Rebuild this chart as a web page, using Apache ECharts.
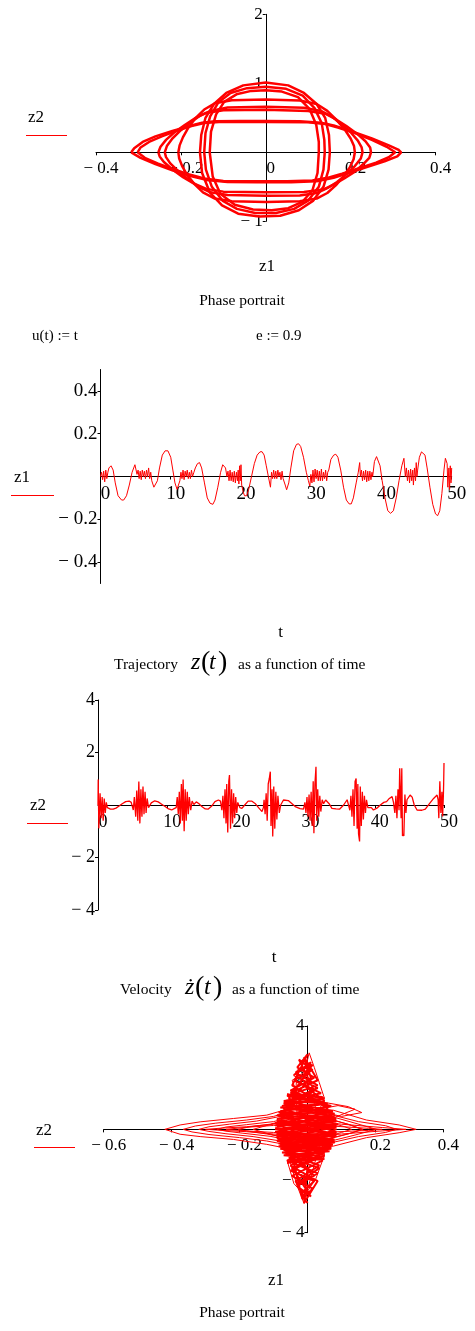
<!DOCTYPE html>
<html>
<head>
<meta charset="utf-8">
<script src="https://cdn.jsdelivr.net/npm/echarts@6/dist/echarts.min.js"></script>
<style>
    html, body { margin: 0; padding: 0; background: #fff; }
    #chart { width: 475px; height: 1331px; }
</style>
</head>
<body>
<div id="chart"></div>
<script>
// ---- top phase portrait: [z1, z2] loops ----
var ringOuter = [[-0.155,0],[-0.152,0.25],[-0.142,0.5],[-0.122,0.7],[-0.093,0.86],[-0.053,0.97],[0,1.01],[0.053,0.97],[0.09,0.86],[0.12,0.7],[0.14,0.5],[0.149,0.25],[0.151,0],[0.148,-0.25],[0.136,-0.5],[0.112,-0.7],[0.078,-0.84],[0.034,-0.92],[-0.015,-0.93],[-0.065,-0.89],[-0.103,-0.77],[-0.132,-0.58],[-0.15,-0.3],[-0.155,0]];
var ringMid = [[-0.145,0],[-0.142,0.28],[-0.131,0.52],[-0.112,0.72],[-0.083,0.86],[-0.044,0.93],[0,0.95],[0.048,0.92],[0.087,0.82],[0.115,0.64],[0.132,0.42],[0.138,0.18],[0.139,0],[0.136,-0.25],[0.125,-0.5],[0.1,-0.7],[0.067,-0.82],[0.024,-0.88],[-0.025,-0.88],[-0.068,-0.82],[-0.102,-0.7],[-0.127,-0.5],[-0.141,-0.25],[-0.145,0]];
var ringInner = [[-0.132,0],[-0.129,0.3],[-0.117,0.55],[-0.098,0.73],[-0.069,0.84],[-0.034,0.89],[0,0.9],[0.038,0.88],[0.076,0.8],[0.103,0.63],[0.119,0.4],[0.125,0.15],[0.125,0],[0.122,-0.3],[0.11,-0.55],[0.086,-0.72],[0.053,-0.81],[0.014,-0.84],[-0.03,-0.83],[-0.073,-0.76],[-0.107,-0.6],[-0.125,-0.35],[-0.132,0]];
var lensWide = [[-0.317,0],[-0.31,0.06],[-0.29,0.15],[-0.26,0.23],[-0.22,0.31],[-0.18,0.38],[-0.15,0.43],[-0.12,0.45],[-0.06,0.455],[0,0.455],[0.08,0.45],[0.13,0.43],[0.16,0.39],[0.2,0.31],[0.25,0.2],[0.29,0.1],[0.312,0.04],[0.319,0],[0.31,-0.06],[0.28,-0.13],[0.24,-0.21],[0.2,-0.29],[0.16,-0.37],[0.12,-0.42],[0.06,-0.435],[-0.02,-0.435],[-0.09,-0.43],[-0.14,-0.4],[-0.18,-0.34],[-0.22,-0.26],[-0.26,-0.17],[-0.295,-0.08],[-0.317,0]];
var lensWide2 = [[-0.302,0],[-0.295,0.07],[-0.275,0.15],[-0.245,0.23],[-0.21,0.31],[-0.175,0.38],[-0.145,0.425],[-0.11,0.44],[0,0.44],[0.1,0.435],[0.14,0.41],[0.17,0.36],[0.21,0.28],[0.25,0.18],[0.285,0.08],[0.305,0],[0.29,-0.07],[0.26,-0.15],[0.22,-0.23],[0.18,-0.31],[0.145,-0.37],[0.11,-0.41],[0.05,-0.42],[-0.04,-0.42],[-0.1,-0.415],[-0.145,-0.38],[-0.18,-0.32],[-0.22,-0.24],[-0.255,-0.16],[-0.285,-0.08],[-0.302,0]];
var lensMid = [[-0.253,0],[-0.248,0.08],[-0.235,0.18],[-0.215,0.29],[-0.19,0.4],[-0.165,0.5],[-0.14,0.57],[-0.1,0.61],[0,0.615],[0.1,0.6],[0.14,0.56],[0.165,0.48],[0.19,0.38],[0.215,0.27],[0.235,0.16],[0.246,0.07],[0.248,0],[0.244,-0.08],[0.23,-0.17],[0.21,-0.28],[0.185,-0.38],[0.16,-0.47],[0.135,-0.54],[0.09,-0.575],[0,-0.58],[-0.1,-0.57],[-0.14,-0.53],[-0.17,-0.45],[-0.195,-0.36],[-0.22,-0.25],[-0.24,-0.14],[-0.25,-0.06],[-0.253,0]];
var lensMid2 = [[-0.238,0],[-0.233,0.09],[-0.22,0.2],[-0.2,0.32],[-0.178,0.43],[-0.155,0.53],[-0.13,0.6],[-0.09,0.65],[0,0.66],[0.09,0.645],[0.13,0.6],[0.155,0.52],[0.178,0.41],[0.2,0.29],[0.217,0.17],[0.226,0.07],[0.228,0],[0.224,-0.09],[0.21,-0.2],[0.19,-0.32],[0.168,-0.43],[0.145,-0.52],[0.12,-0.59],[0.08,-0.625],[0,-0.63],[-0.09,-0.62],[-0.13,-0.58],[-0.158,-0.5],[-0.18,-0.4],[-0.205,-0.28],[-0.225,-0.16],[-0.235,-0.07],[-0.238,0]];
var lensNarrow = [[-0.206,0],[-0.203,0.1],[-0.195,0.22],[-0.182,0.36],[-0.165,0.5],[-0.145,0.62],[-0.12,0.71],[-0.08,0.755],[0,0.765],[0.08,0.75],[0.12,0.7],[0.145,0.6],[0.165,0.48],[0.185,0.34],[0.2,0.2],[0.208,0.09],[0.21,0],[0.207,-0.1],[0.198,-0.22],[0.183,-0.35],[0.165,-0.48],[0.145,-0.59],[0.12,-0.67],[0.08,-0.71],[0,-0.72],[-0.08,-0.71],[-0.12,-0.67],[-0.148,-0.58],[-0.168,-0.46],[-0.185,-0.33],[-0.197,-0.2],[-0.204,-0.09],[-0.206,0]];

// ---- trajectory z1(t): [t, z1] ----
var z1Trace = [
[0,0],[0.15,0.02],[0.3,-0.015],[0.45,0.025],[0.6,-0.025],[0.75,0.03],[0.9,-0.01],[1.05,0.02],
[1.2,0.04],[1.5,0.05],[1.8,0.03],[2.1,-0.03],[2.5,-0.09],[3.0,-0.11],[3.3,-0.11],[3.7,-0.09],[4.1,-0.04],[4.5,0.02],[4.9,0.055],[5.1,0.05],
[5.2,0.01],[5.35,0.03],[5.5,-0.01],[5.65,0.025],[5.8,-0.015],[5.95,0.03],[6.1,0],[6.25,0.025],[6.4,-0.01],[6.55,0.03],[6.7,0],[6.85,0.04],[7.0,-0.01],[7.15,0.02],[7.3,-0.02],
[7.6,-0.05],[7.8,-0.055],[8.1,-0.02],[8.4,0.04],[8.8,0.1],[9.2,0.12],[9.6,0.12],[10.0,0.09],[10.3,0.03],[10.6,-0.03],[10.9,-0.06],[11.1,-0.065],
[11.3,-0.02],[11.45,0.02],[11.6,-0.01],[11.75,0.03],[11.9,-0.015],[12.05,0.025],[12.2,0],[12.35,0.03],[12.5,-0.01],[12.65,0.02],[12.8,-0.01],[12.95,0.03],[13.1,0],[13.3,0.02],[13.5,0.04],
[13.8,0.06],[14.1,0.065],[14.4,0.04],[14.8,-0.03],[15.2,-0.1],[15.6,-0.125],[16.0,-0.13],[16.3,-0.11],[16.7,-0.05],[17.1,0.02],[17.4,0.055],[17.6,0.06],[17.8,0.04],
[18.0,0],[18.15,0.025],[18.3,-0.02],[18.45,0.03],[18.6,-0.02],[18.75,0.02],[18.9,-0.025],[19.05,0.025],[19.2,-0.03],[19.35,0.02],[19.5,-0.02],[19.6,0.03],[19.7,-0.035],[19.8,0.05],[19.9,-0.02],[20.0,0.055],[20.1,-0.04],
[20.3,-0.07],[20.5,-0.09],[20.8,-0.09],[21.1,-0.06],[21.5,0],[21.9,0.06],[22.3,0.1],[22.7,0.115],[23.0,0.116],[23.3,0.1],[23.6,0.05],[23.9,0],[24.2,-0.05],
[24.35,0.02],[24.5,-0.01],[24.65,0.03],[24.8,-0.01],[24.95,0.025],[25.1,-0.01],[25.25,0.03],[25.4,0],[25.55,0.02],[25.7,-0.015],[25.85,0.025],[26.0,-0.01],
[26.3,-0.04],[26.5,-0.062],[26.8,-0.03],[27.1,0.04],[27.5,0.12],[27.9,0.15],[28.2,0.153],[28.5,0.14],[28.9,0.09],[29.3,0.02],[29.6,-0.02],
[29.8,-0.045],[29.95,0.01],[30.1,-0.03],[30.25,0.03],[30.4,-0.025],[30.55,0.035],[30.7,-0.01],[30.85,0.03],[31.0,-0.02],[31.15,0.025],[31.3,-0.02],[31.45,0.035],[31.6,-0.02],[31.75,0.02],[31.9,-0.01],[32.05,0.03],[32.2,-0.02],[32.35,0.02],[32.5,0.03],
[32.8,0.08],[33.2,0.1],[33.5,0.104],[33.8,0.09],[34.2,0.03],[34.6,-0.05],[35.0,-0.11],[35.4,-0.128],[35.7,-0.128],[36.0,-0.1],[36.4,-0.03],[36.7,0.02],
[36.9,0.065],[37.0,0],[37.15,0.03],[37.3,-0.02],[37.45,0.025],[37.6,-0.015],[37.75,0.03],[37.9,-0.025],[38.05,0.025],[38.2,-0.02],[38.35,0.025],[38.5,-0.015],[38.65,0.02],[38.75,0],
[39.0,0.07],[39.3,0.093],[39.5,0.09],[39.8,0.05],[40.1,-0.02],[40.5,-0.1],[40.9,-0.16],[41.3,-0.172],[41.7,-0.16],[42.1,-0.1],[42.5,-0.02],[42.9,0.05],[43.2,0.085],[43.3,0.08],
[43.4,0],[43.55,0.04],[43.7,-0.02],[43.85,0.03],[44.0,-0.03],[44.15,0.035],[44.3,-0.02],[44.45,0.03],[44.55,-0.04],[44.7,0.04],[44.85,-0.02],[44.95,0.065],[45.05,0],[45.15,0.03],
[45.4,0.09],[45.7,0.115],[45.9,0.119],[46.2,0.1],[46.5,0.04],[46.9,-0.05],[47.3,-0.13],[47.7,-0.175],[48.0,-0.183],[48.3,-0.16],[48.6,-0.08],[48.9,0.03],[49.1,0.085],[49.2,0.09],[49.35,0.06],
[49.45,-0.05],[49.6,0.04],[49.7,-0.06],[49.8,0.05],[49.9,-0.03],[50,0.04]
];

// ---- velocity z2(t): [t, z2] ----
var z2Trace = [
[0,0],[0.03,0.97],[0.12,-0.89],[0.3,0.45],[0.45,-0.5],[0.6,0.3],[0.75,-0.6],[0.9,0.25],[1.05,-0.3],[1.2,0.1],[1.35,-0.1],
[1.5,-0.12],[1.8,-0.16],[2.2,-0.16],[2.6,-0.12],[3.0,-0.05],[3.5,0.05],[4.0,0.13],[4.5,0.15],[4.8,0.1],[5.1,-0.19],
[5.25,0.3],[5.45,-0.45],[5.6,0.55],[5.75,-0.6],[5.9,0.89],[6.05,-0.7],[6.2,0.6],[6.35,-0.45],[6.5,0.7],[6.65,-0.35],[6.8,0.5],[6.95,-0.3],[7.1,0.25],[7.3,-0.1],
[7.7,0.08],[8.2,0.16],[8.7,0.12],[9.2,0.03],[9.7,-0.06],[10.2,-0.15],[10.65,-0.19],[11.0,-0.14],[11.3,-0.1],
[11.45,0.3],[11.6,-0.35],[11.75,0.5],[11.9,-0.7],[12.05,0.8],[12.2,-0.6],[12.3,0.97],[12.45,-1.0],[12.6,0.6],[12.75,-0.6],[12.9,0.5],[13.05,-0.35],[13.2,0.3],[13.4,-0.2],[13.6,0.15],[13.85,0.02],
[14.2,0.12],[14.6,0.05],[15.0,-0.06],[15.5,-0.15],[15.9,-0.16],[16.4,-0.05],[16.9,0.13],[17.4,0.19],[17.7,0.15],
[17.9,-0.2],[18.05,0.35],[18.2,-0.5],[18.35,0.6],[18.5,-0.7],[18.6,0.8],[18.75,-1.05],[18.9,0.9],[19.0,1.14],[19.15,-0.9],[19.3,0.6],[19.45,-0.7],[19.6,0.45],[19.75,-0.5],[19.9,0.3],[20.05,-0.3],[20.2,0.1],
[20.5,-0.1],[20.8,-0.13],[21.2,0],[21.7,0.15],[22.2,0.15],[22.7,0.06],[23.2,-0.1],[23.7,-0.25],[23.9,-0.1],
[24.0,0.2],[24.15,-0.35],[24.3,0.45],[24.45,-0.6],[24.6,0.8],[24.75,1.0],[24.9,1.27],[25.0,-0.8],[25.15,0.6],[25.25,-1.2],[25.4,0.7],[25.55,-0.9],[25.7,0.5],[25.85,-0.55],[26.0,0.35],[26.2,-0.3],[26.4,0],
[26.8,0.19],[27.5,0.17],[28.5,-0.06],[29.2,-0.14],[29.7,-0.16],
[29.9,0.1],[30.05,-0.3],[30.2,0.3],[30.35,-0.45],[30.5,0.4],[30.65,-0.6],[30.8,0.5],[30.95,-0.8],[31.1,0.9],[31.2,-1.08],[31.35,0.8],[31.5,1.46],[31.6,-0.6],[31.75,0.6],[31.9,-0.45],[32.05,0.35],[32.2,-0.25],[32.4,0.2],[32.6,0.05],
[32.9,0.19],[33.4,0.05],[33.8,-0.13],[34.4,-0.15],[34.9,-0.16],[35.5,0],[36.0,0.2],[36.2,0.25],
[36.4,-0.2],[36.55,0.35],[36.7,-0.45],[36.85,0.6],[37.0,-0.8],[37.15,0.9],[37.3,1.01],[37.45,-0.9],[37.55,0.8],[37.65,-1.1],[37.8,-1.39],[37.9,0.7],[38.05,-0.8],[38.2,0.5],[38.35,-0.55],[38.5,0.35],[38.65,-0.3],[38.8,0.2],[39.0,-0.1],
[39.5,-0.1],[39.8,-0.19],[40.3,-0.12],[40.8,0],[41.3,0.1],[41.7,0.13],[42.1,0.25],[42.5,0.32],[42.7,0.1],
[42.9,-0.3],[43.05,0.35],[43.2,-0.5],[43.35,0.6],[43.5,-0.2],[43.6,1.4],[43.7,1.46],[43.8,-0.5],[43.9,1.4],[44.0,-1.18],[44.1,-1.1],[44.2,-1.18],[44.35,0.4],[44.5,-0.3],[44.65,0.2],
[44.9,0.2],[45.1,0.38],[45.4,0.3],[45.7,0],[46.1,-0.19],[46.8,-0.2],[47.3,-0.16],[47.9,0.05],[48.5,0.25],[49.0,0.38],[49.15,0.2],
[49.25,-0.5],[49.4,0.9],[49.55,-0.3],[49.7,0.5],[49.8,-0.44],[49.9,0.3],[49.95,0.8],[50,1.6]
];

// ---- bottom phase portrait: [z1, z2] ----
var outerLens1 = [[-0.42,0],[-0.375,0.17],[-0.316,0.29],[-0.218,0.42],[-0.12,0.55],[-0.07,0.74],[0,0.8],[0.076,0.74],[0.174,0.36],[0.27,0.17],[0.32,0],[0.27,-0.13],[0.174,-0.32],[0.076,-0.65],[0,-0.75],[-0.071,-0.71],[-0.12,-0.58],[-0.218,-0.39],[-0.316,-0.28],[-0.375,-0.19],[-0.42,0]];
var outerLens2 = [[-0.366,0],[-0.33,0.13],[-0.27,0.24],[-0.18,0.36],[-0.1,0.5],[-0.05,0.7],[0,0.75],[0.06,0.6],[0.15,0.3],[0.23,0.14],[0.262,0],[0.23,-0.12],[0.15,-0.28],[0.06,-0.55],[0,-0.65],[-0.06,-0.6],[-0.12,-0.45],[-0.2,-0.32],[-0.29,-0.2],[-0.34,-0.1],[-0.366,0]];
var outerLens3 = [[-0.32,0],[-0.29,0.1],[-0.23,0.2],[-0.15,0.32],[-0.08,0.5],[0,0.65],[0.07,0.5],[0.14,0.24],[0.203,0],[0.14,-0.22],[0.07,-0.45],[0,-0.6],[-0.08,-0.45],[-0.16,-0.28],[-0.24,-0.17],[-0.29,-0.08],[-0.32,0]];
var outerLens4 = [[-0.267,0],[-0.24,0.09],[-0.18,0.18],[-0.1,0.3],[-0.04,0.5],[0.02,0.55],[0.08,0.35],[0.13,0.15],[0.164,0],[0.13,-0.14],[0.08,-0.3],[0.02,-0.5],[-0.04,-0.45],[-0.11,-0.27],[-0.19,-0.15],[-0.24,-0.07],[-0.267,0]];
var outerLens5 = [[-0.204,0],[-0.17,0.1],[-0.11,0.2],[-0.05,0.4],[0.02,0.45],[0.07,0.25],[0.11,0.1],[0.13,0],[0.1,-0.12],[0.06,-0.28],[0,-0.42],[-0.06,-0.33],[-0.12,-0.18],[-0.17,-0.08],[-0.204,0]];
var outerLens6 = [[-0.3,0],[-0.25,0.05],[-0.18,0.1],[-0.1,0.2],[0,0.35],[0.1,0.2],[0.22,0.07],[0.29,0],[0.22,-0.06],[0.1,-0.18],[0,-0.3],[-0.1,-0.18],[-0.18,-0.09],[-0.25,-0.04],[-0.3,0]];
var innerLens7 = [[-0.16,0],[-0.12,0.15],[-0.06,0.35],[0,0.5],[0.06,0.4],[0.12,0.2],[0.16,0],[0.12,-0.18],[0.06,-0.38],[0,-0.48],[-0.06,-0.35],[-0.12,-0.15],[-0.16,0]];
var innerLens8 = [[-0.24,0],[-0.18,0.08],[-0.1,0.15],[-0.02,0.25],[0.08,0.12],[0.18,0.04],[0.22,0],[0.18,-0.04],[0.08,-0.1],[-0.02,-0.22],[-0.1,-0.12],[-0.18,-0.06],[-0.24,0]];
var fanRight = [[-0.02,1.1],[0.06,1.02],[0.12,0.88],[0.16,0.65],[0.1,0.5],[0.02,0.75],[0.09,0.92],[0.14,0.78],[0.05,0.3]];
var spikeUp = [[-0.03,0.5],[-0.035,1.4],[-0.03,2.3],[-0.005,2.4],[0.005,2.96],[0.02,2.4],[0.035,1.8],[0.05,1.2],[0.03,0.6],[-0.01,2.2],[-0.045,1.9],[-0.02,1.0]];
var spikeDown = [[-0.05,-0.4],[-0.05,-1.3],[-0.03,-2.2],[-0.01,-2.87],[0,-2.4],[0.025,-1.9],[0.05,-1.0],[0.04,-0.4],[-0.005,-2.6],[-0.04,-2.1],[-0.06,-1.2]];
var coreScribble = [[-0.09,0.1],[0.08,0.6],[-0.07,1.0],[0.03,1.6],[-0.04,2.1],[0.01,2.6],[-0.02,1.8],[0.05,1.1],[-0.09,0.3],[0.085,-0.2],[-0.08,-0.6],[0.05,-1.0],[-0.05,-1.6],[0.02,-2.0],[-0.02,-2.5],[0,-2.85],[-0.035,-2.0],[0.035,-1.4],[-0.065,-0.9],[0.075,-0.4],[-0.095,0],[0.085,0.3],[-0.08,0.7],[0.055,1.0],[-0.05,1.5],[0.02,2.0],[-0.03,2.4],[0,2.9],[-0.045,1.7],[0.06,0.8],[-0.09,-0.2],[0.07,-0.7],[-0.06,-1.2],[0.03,-1.7],[-0.03,-2.2],[0.01,-2.6],[-0.045,-1.5],[0.05,-0.9],[-0.085,-0.4],[0.085,0.1],[-0.085,0.5],[0.07,0.9],[-0.06,1.3],[0.03,1.7],[-0.035,2.2],[0.015,2.5],[-0.055,1.2],[0.08,0.4],[-0.095,-0.1],[0.08,-0.5],[-0.07,-0.8],[0.045,-1.2],[-0.045,-1.8],[0.015,-2.3],[-0.015,-2.7],[-0.04,-1.3],[0.06,-0.6],[-0.09,0.2],[0.075,0.7],[-0.065,1.1],[0.04,1.4],[-0.04,1.9],[0.015,2.3],[-0.025,2.7],[0.02,1.5],[-0.08,0.6],[0.085,-0.1],[-0.08,-0.5],[0.06,-0.8],[-0.055,-1.1],[0.035,-1.5],[-0.03,-2.1],[0.02,-1.8],[-0.06,-0.9],[0.08,-0.3],[-0.09,0.4],[0.08,0.5],[-0.075,0.9],[0.05,1.2],[-0.05,1.4],[0.03,1.9],[-0.01,2.8],[0.01,2.0],[-0.07,0.8],[0.085,0],[-0.07,-0.7],[0.07,-0.6],[-0.05,-1.4],[0.03,-2.0],[-0.01,-2.85],[0,-1.5],[-0.09,-0.3],[0.09,0.2],[-0.06,0]];
var coreBand = [[-0.095,0.05],[0.085,-0.15],[-0.09,-0.35],[0.08,-0.5],[-0.085,-0.65],[0.065,-0.85],[-0.07,-1.0],[0.05,-1.15],[-0.06,-1.25],[0.04,-0.95],[-0.08,-0.75],[0.075,-0.6],[-0.09,-0.45],[0.085,-0.25],[-0.095,-0.1],[0.085,0.1],[-0.095,0.25],[0.085,0.4],[-0.09,0.55],[0.075,0.7],[-0.08,0.85],[0.06,1.0],[-0.07,1.1],[0.045,1.25],[-0.06,1.35],[0.05,1.05],[-0.085,0.65],[0.08,0.45],[-0.095,0.15],[0.085,0.2],[-0.09,-0.2],[0.08,-0.4],[-0.085,-0.55],[0.07,-0.75],[-0.075,-0.9],[0.05,-1.05],[-0.06,-1.3]];

// tick values shown on each axis
var ticksX1 = [-0.4, -0.2, 0, 0.2, 0.4];
var ticksY1 = [-1, 1, 2];
var ticksY2 = [-0.4, -0.2, 0.2, 0.4];
var ticksT = [0, 10, 20, 30, 40, 50];
var ticksY3 = [-4, -2, 2, 4];
var ticksX4 = [-0.6, -0.4, -0.2, 0.2, 0.4];

var RED = "#ff0000";
var FONT = "'Liberation Serif', 'Times New Roman', serif";

var grids = [
    {left: 96, top: 14.3, width: 339.5, height: 207},
    {left: 100.5, top: 369.5, width: 351.2, height: 214},
    {left: 98, top: 700, width: 346, height: 210},
    {left: 103.7, top: 1026, width: 339.6, height: 206.7}
];

function fmtNum(v) {
    var s = String(+Math.abs(v).toFixed(2));
    return v < 0 ? "\u2212 " + s : s;
}

// axes cross at zero like Mathcad: shift each axis onto the other axis's zero
function axisOf(gridIndex, min, max, ticks, size, isY, crossMin, crossMax) {
    var g = grids[gridIndex];
    var span = isY ? g.width : g.height;
    var shift = -span * (0 - crossMin) / (crossMax - crossMin);
    return {
        type: "value",
        gridIndex: gridIndex,
        min: min,
        max: max,
        offset: shift,
        splitLine: {show: false},
        axisLine: {onZero: false, lineStyle: {color: "#000", width: 1}},
        axisTick: {show: true, length: 3, lineStyle: {color: "#000"}, customValues: ticks},
        axisLabel: {
            color: "#000",
            fontFamily: FONT,
            fontSize: size,
            margin: isY ? 3 : 8,
            padding: isY ? [4, 0, 0, 0] : [0, 0, 0, 10],
            customValues: ticks,
            showMinLabel: true,
            showMaxLabel: true,
            hideOverlap: false,
            formatter: fmtNum
        }
    };
}

function lineOf(idx, data, width) {
    return {
        type: "line",
        xAxisIndex: idx,
        yAxisIndex: idx,
        data: data,
        showSymbol: false,
        symbol: "none",
        silent: true,
        z: 3,
        lineStyle: {color: RED, width: width}
    };
}

function text(str, x, y, size, align, style) {
    return {
        type: "text",
        x: x,
        y: y,
        z: 10,
        style: {
            text: str,
            font: (style || "") + " " + size + "px " + FONT,
            fill: "#000",
            textAlign: align || "center",
            textVerticalAlign: "middle",
            verticalAlign: "middle"
        }
    };
}

function underline(x1, x2, y) {
    return {
        type: "line",
        z: 10,
        shape: {x1: x1, y1: y, x2: x2, y2: y},
        style: {stroke: RED, lineWidth: 1}
    };
}

var series = [];
[ringOuter, ringMid, ringInner, lensWide, lensWide2, lensMid, lensMid2, lensNarrow].forEach(function (d) {
    series.push(lineOf(0, d, 2.5));
});
series.push(lineOf(1, z1Trace, 1));
series.push(lineOf(2, z2Trace, 1.3));
[outerLens1, outerLens2, outerLens3, outerLens4, outerLens5, outerLens6, innerLens7, innerLens8, fanRight, spikeUp, spikeDown].forEach(function (d) {
    series.push(lineOf(3, d, 1));
});
series.push(lineOf(3, coreScribble, 2));
series.push(lineOf(3, coreBand, 2));

var option = {
    animation: false,
    backgroundColor: "#fff",
    grid: grids.map(function (g) {
        return {left: g.left, top: g.top, width: g.width, height: g.height, containLabel: false, outerBoundsMode: "none"};
    }),
    xAxis: [
        axisOf(0, -0.4, 0.4, ticksX1, 17, false, -1, 2),
        axisOf(1, 0, 50, ticksT, 19, false, -0.5, 0.5),
        axisOf(2, 0, 50, ticksT, 18, false, -4, 4),
        axisOf(3, -0.6, 0.4, ticksX4, 17, false, -4, 4)
    ],
    yAxis: [
        axisOf(0, -1, 2, ticksY1, 17, true, -0.4, 0.4),
        axisOf(1, -0.5, 0.5, ticksY2, 19, true, 0, 50),
        axisOf(2, -4, 4, ticksY3, 18, true, 0, 50),
        axisOf(3, -4, 4, ticksY3, 17, true, -0.6, 0.4)
    ],
    series: series,
    graphic: [
        // phase portrait (top)
        text("z2", 36, 118, 17), underline(26, 67, 135.5),
        text("z1", 267, 267, 17),
        text("Phase portrait", 242, 301, 15.5),
        text("u(t) := t", 32, 336, 15, "left"),
        text("e := 0.9", 256, 336, 15, "left"),
        // trajectory
        text("z1", 22, 478, 17), underline(11, 54, 495.5),
        text("t", 280.5, 632.5, 17),
        text("Trajectory", 114, 665, 15.5, "left"),
        text("z", 191, 663, 24, "left", "italic"),
        text("(", 201, 663, 28, "left"),
        text("t", 209, 663, 24, "left", "italic"),
        text(")", 218, 663, 28, "left"),
        text("as a function of time", 238, 665, 15.5, "left"),
        // velocity
        text("z2", 38, 806, 17), underline(27, 68, 823.5),
        text("t", 274, 957.5, 17),
        text("Velocity", 120, 990, 15.5, "left"),
        text("\u017c", 185, 988, 24, "left", "italic"),
        text("(", 195, 988, 28, "left"),
        text("t", 204, 988, 24, "left", "italic"),
        text(")", 213, 988, 28, "left"),
        text("as a function of time", 232, 990, 15.5, "left"),
        // phase portrait (bottom)
        text("z2", 44, 1131, 17), underline(34, 75, 1147.5),
        text("z1", 276, 1280.5, 17),
        text("Phase portrait", 242, 1312.5, 15.5)
    ]
};

var chart = echarts.init(document.getElementById("chart"), null, {renderer: "canvas"});
chart.setOption(option);
</script>
</body>
</html>
